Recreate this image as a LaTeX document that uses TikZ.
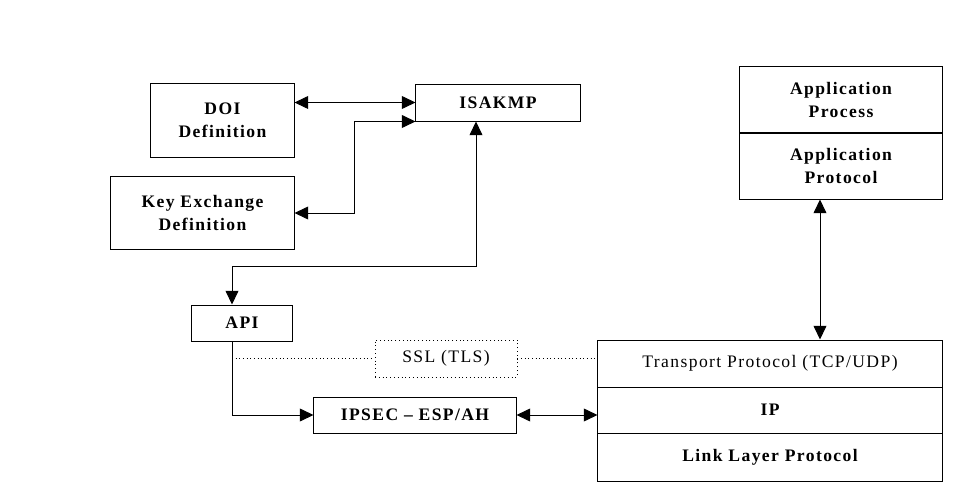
\documentclass[tikz,border=0pt]{standalone}
\usepackage{fontspec}
\setmainfont{Liberation Serif}
\newfontfamily\spacedfont[LetterSpace=8]{Liberation Serif}
\usetikzlibrary{arrows.meta}

\begin{document}
\begin{tikzpicture}[
    x=0.025cm,
    y=-0.025cm,
    >={Triangle[length=3.4mm,width=3.2mm]},
    box/.style={
        draw,
        line width=0.7pt,
        inner sep=0pt,
        align=center,
        font=\spacedfont\bfseries\fontsize{12.5}{16}\selectfont
    },
    plainbox/.style={
        box,
        font=\spacedfont\fontsize{12.5}{16}\selectfont
    },
    link/.style={
        line width=0.7pt
    },
    dotline/.style={
        line width=0.6pt,
        dotted
    }
]

\useasboundingbox (0,0) rectangle (978,498);

% ==================================================
% Key management side
% ==================================================

\node[box, minimum width=3.575cm, minimum height=1.825cm] (doi)
    at (222.5,120.5) {DOI\\Definition};

\node[box, minimum width=4.575cm, minimum height=1.8cm] (keyex)
    at (202.5,213) {Key Exchange\\Definition};

\node[box, minimum width=4.1cm, minimum height=0.925cm] (isakmp)
    at (498,102.5) {ISAKMP};

\node[box, minimum width=2.5cm, minimum height=0.9cm] (api)
    at (242,323) {API};

\node[plainbox, dotted, line width=0.6pt, minimum width=3.55cm, minimum height=0.925cm] (ssl)
    at (446,358.5) {SSL (TLS)};

\node[box, minimum width=5.05cm, minimum height=0.9cm] (ipsec)
    at (415,415) {IPSEC – ESP/AH};

% ==================================================
% Protocol stack
% ==================================================

\node[box, minimum width=5.05cm, minimum height=1.65cm] (appproc)
    at (841,100) {Application\\Process};

\node[box, minimum width=5.05cm, minimum height=1.65cm] (appprot)
    at (841,166) {Application\\Protocol};

\node[plainbox, minimum width=8.6cm, minimum height=1.175cm] (transport)
    at (770,363.5) {Transport Protocol (TCP/UDP)};

\node[box, minimum width=8.6cm, minimum height=1.15cm] (ip)
    at (770,410) {IP};

\node[box, minimum width=8.6cm, minimum height=1.2cm] (linklayer)
    at (770,457) {Link Layer Protocol};

% ==================================================
% Connections
% ==================================================

% DOI and key exchange to ISAKMP
\draw[link, <->] (isakmp.west -| doi.east) -- (isakmp.west);
\draw[link, <->] (isakmp.south west) -- ++(-61,0) |- (keyex.east);

% ISAKMP down to the API
\coordinate (apibend) at (232,266);
\draw[link, <->] ([xshift=-0.55cm]isakmp.south) |- (apibend)
    -- (apibend |- api.north);

% API to IPSEC, IPSEC to IP
\draw[link, ->] ([xshift=-0.25cm]api.south) |- (ipsec.west);
\draw[link, <->] (ipsec.east) -- (ipsec.east -| ip.west);

% SSL between API and transport
\draw[dotline] (ssl.west -| apibend) -- (ssl.west);
\draw[dotline] (ssl.east) -- (ssl.east -| transport.west);

% application to transport
\draw[link, <->] ([xshift=-0.525cm]appprot.south)
    -- ([xshift=-0.525cm]appprot.south |- transport.north);

\end{tikzpicture}
\end{document}
